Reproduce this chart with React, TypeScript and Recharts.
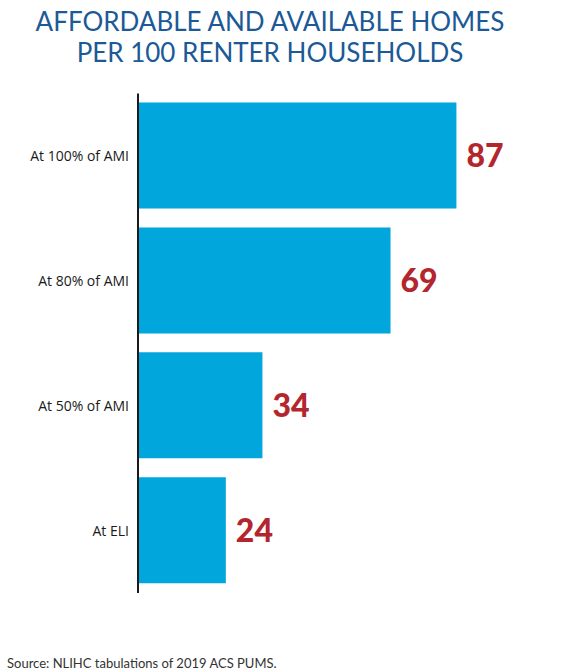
import React from 'react';
import { BarChart, Bar, XAxis, YAxis, LabelList } from 'recharts';

const categories = ['At 100% of AMI', 'At 80% of AMI', 'At 50% of AMI', 'At ELI'];
const values = [87, 69, 34, 24];
const titleLines = ['AFFORDABLE AND AVAILABLE HOMES', 'PER 100 RENTER HOUSEHOLDS'];
const sourceText = 'Source: NLIHC tabulations of 2019 ACS PUMS.';

const data = categories.map((name, i) => ({ name, value: values[i] }));

export default function App() {
  return (
    <div style={{ position: 'absolute', left: 0, top: 0, width: 564, height: 670, background: '#fff' }}>
      <div
        style={{
          position: 'absolute',
          left: 0,
          top: 6,
          width: 540,
          textAlign: 'center',
          fontFamily: 'Lato, sans-serif',
          fontSize: 26,
          lineHeight: '31px',
          color: '#1b5a96',
        }}
      >
        {titleLines.map((t) => (
          <div key={t}>{t}</div>
        ))}
      </div>
      <BarChart
        width={564}
        height={670}
        data={data}
        layout="vertical"
        margin={{ top: 93.6, right: 60, bottom: 77, left: 0 }}
      >
        <XAxis type="number" domain={[0, 100]} hide />
        <YAxis
          type="category"
          dataKey="name"
          width={138}
          tickLine={false}
          tickSize={0}
          tickMargin={9}
          axisLine={{ stroke: '#1a1a1a', strokeWidth: 2 }}
          tick={{ fill: '#1a1a1a', fontSize: 14, fontFamily: '"Liberation Sans Narrow", "Open Sans", sans-serif' }}
        />
        <Bar dataKey="value" fill="#00a6dc" barSize={106} isAnimationActive={false}>
          <LabelList
            dataKey="value"
            position="right"
            offset={10}
            fill="#b3262e"
            fontSize={32}
            fontWeight={900}
            fontFamily="Lato, sans-serif"
          />
        </Bar>
      </BarChart>
      <div
        style={{
          position: 'absolute',
          left: 7,
          top: 655,
          fontFamily: 'Lato, sans-serif',
          fontSize: 13,
          color: '#333',
          whiteSpace: 'nowrap',
        }}
      >
        {sourceText}
      </div>
    </div>
  );
}
